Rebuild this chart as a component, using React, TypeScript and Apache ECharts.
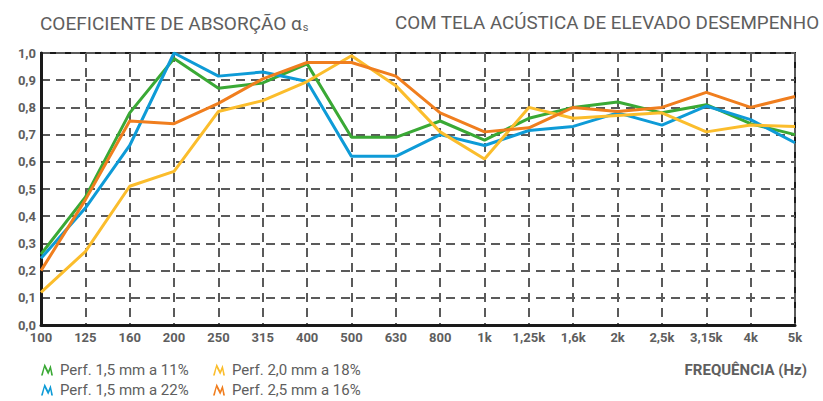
import React, { useEffect, useRef } from "react";
import * as echarts from "echarts";

const categories = ["100", "125", "160", "200", "250", "315", "400", "500", "630", "800", "1k", "1,25k", "1,6k", "2k", "2,5k", "3,15k", "4k", "5k"];
const perf15_11 = [0.26, 0.47, 0.78, 0.98, 0.87, 0.89, 0.96, 0.69, 0.69, 0.75, 0.68, 0.76, 0.80, 0.82, 0.78, 0.81, 0.74, 0.70];
const perf15_22 = [0.245, 0.43, 0.66, 1.0, 0.915, 0.93, 0.895, 0.62, 0.62, 0.70, 0.66, 0.715, 0.73, 0.78, 0.735, 0.805, 0.755, 0.67];
const perf20_18 = [0.12, 0.27, 0.51, 0.565, 0.785, 0.825, 0.895, 0.99, 0.88, 0.71, 0.61, 0.80, 0.76, 0.77, 0.78, 0.71, 0.735, 0.73];
const perf25_16 = [0.20, 0.46, 0.75, 0.74, 0.815, 0.905, 0.965, 0.965, 0.915, 0.78, 0.71, 0.725, 0.80, 0.785, 0.80, 0.855, 0.80, 0.84];
const seriesNames = ["Perf. 1,5 mm a 11%", "Perf. 1,5 mm a 22%", "Perf. 2,0 mm a 18%", "Perf. 2,5 mm a 16%"];
const seriesColors = ["#3aa935", "#0e9bd7", "#fbbd2c", "#f07e1e"];

const FONT = "Roboto, 'Noto Sans', sans-serif";
const GRAY = "#5e5e5e";
const ICON = "path://M0,10 L3,0 L6,6 L8,1 L10,10 L8.5,10 L7.8,5.5 L6,9.4 L3,3.6 L1.5,10 Z";

// legend placement: [left, top] for each series in seriesNames order
const legendSpots = [
  [41, 362],
  [41, 382],
  [213, 362],
  [213, 382],
];

export default function App() {
  const ref = useRef<HTMLDivElement>(null);
  useEffect(() => {
    if (!ref.current) return;
    const chart = echarts.init(ref.current, undefined, { renderer: "svg" });
    const datasets = [perf15_11, perf15_22, perf20_18, perf25_16];
    chart.setOption({
      animation: false,
      textStyle: { fontFamily: FONT },
      title: [
        {
          text: "{a|COEFICIENTE DE ABSORÇÃO α}{s|s}",
          left: 35,
          top: 8,
          textStyle: {
            fontWeight: "normal",
            rich: {
              a: { fontFamily: FONT, fontSize: 19, fontWeight: "normal", color: GRAY },
              s: { fontFamily: FONT, fontSize: 11, fontWeight: "normal", color: GRAY, padding: [9, 0, 0, 1] },
            },
          },
        },
        {
          text: "COM TELA ACÚSTICA DE ELEVADO DESEMPENHO",
          left: 390,
          top: 8,
          textStyle: { fontFamily: FONT, fontSize: 18.8, fontWeight: "normal", color: GRAY },
        },
        {
          text: "FREQUÊNCIA (Hz)",
          right: 11,
          top: 357,
          textStyle: { fontFamily: FONT, fontSize: 15, fontWeight: "bold", color: GRAY },
        },
      ],
      legend: seriesNames.map((name, i) => ({
        orient: "horizontal",
        left: legendSpots[i][0],
        top: legendSpots[i][1],
        padding: 0,
        itemWidth: 12,
        itemHeight: 12,
        itemGap: 0,
        icon: ICON,
        data: [name],
        textStyle: { fontFamily: FONT, fontSize: 15, color: GRAY, padding: [0, 0, 0, 2] },
      })),
      grid: {
        left: 41,
        right: 28,
        top: 53,
        bottom: 76,
        show: true,
        borderColor: "#1a1a1a",
        borderWidth: 2,
        containLabel: false,
      },
      xAxis: {
        type: "category",
        data: categories,
        boundaryGap: false,
        axisLine: { show: true, lineStyle: { color: "#1a1a1a", width: 3 } },
        axisTick: { show: false },
        axisLabel: { color: GRAY, fontWeight: "bold", fontSize: 13, margin: 6, fontFamily: FONT },
        splitLine: { show: true, lineStyle: { color: "#5a5a5a", width: 2, type: [9, 6] } },
      },
      yAxis: {
        type: "value",
        min: 0,
        max: 1,
        interval: 0.1,
        axisLine: { show: true, lineStyle: { color: "#1a1a1a", width: 3 } },
        axisTick: { show: false },
        axisLabel: {
          color: GRAY,
          fontWeight: "bold",
          fontSize: 13,
          margin: 5,
          fontFamily: FONT,
          formatter: (v: number) => v.toFixed(1).replace(".", ","),
        },
        splitLine: { show: true, lineStyle: { color: "#5a5a5a", width: 2, type: [9, 6] } },
      },
      series: datasets.map((d, i) => ({
        name: seriesNames[i],
        type: "line",
        data: d,
        symbol: "none",
        color: seriesColors[i],
        lineStyle: { width: 3, color: seriesColors[i] },
        z: 3 + i,
      })),
    });
    return () => chart.dispose();
  }, []);
  return <div ref={ref} style={{ width: 823, height: 401, position: "absolute", left: 0, top: 0 }} />;
}
